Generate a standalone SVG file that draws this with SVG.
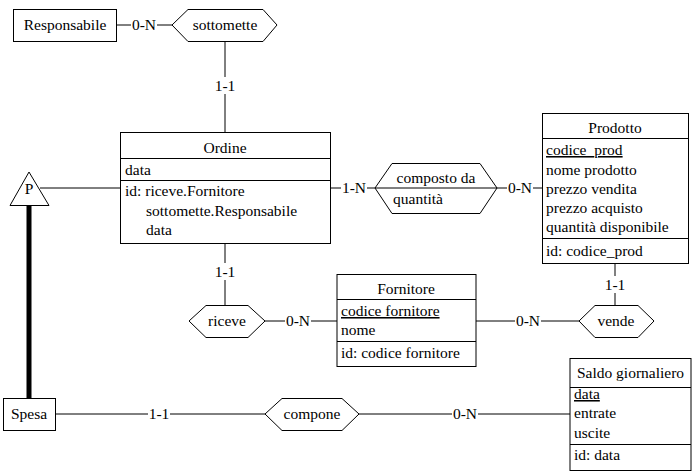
<svg xmlns="http://www.w3.org/2000/svg" width="699" height="473" viewBox="0 0 699 473">
<style>
text{font-family:"Liberation Serif","Times New Roman",serif;font-size:15.5px;fill:#000}
.c{text-anchor:middle}
.b{fill:#fff;stroke:#000;stroke-width:1}
.l{stroke:#000;stroke-width:1;fill:none}
.u{text-decoration:underline}
.bg{fill:#fff}
</style>
<rect width="699" height="473" fill="#fff"/>
<g id="connectors">
<line class="l" x1="40" y1="188" x2="120" y2="188"/>
<line class="l" x1="117" y1="25" x2="172" y2="25"/>
<line class="l" x1="225" y1="41" x2="225" y2="132"/>
<line x1="29" y1="206" x2="29" y2="398" stroke="#000" stroke-width="5"/>
<line class="l" x1="331" y1="188" x2="375" y2="188"/>
<line class="l" x1="497" y1="188" x2="542" y2="188"/>
<line class="l" x1="225" y1="244" x2="225" y2="305"/>
<line class="l" x1="265" y1="321" x2="337" y2="321"/>
<line class="l" x1="476" y1="321" x2="579" y2="321"/>
<line class="l" x1="615" y1="264" x2="615" y2="305"/>
<line class="l" x1="55" y1="414" x2="265" y2="414"/>
<line class="l" x1="359" y1="414" x2="570" y2="414"/>
<g id="labels">
<rect class="bg" x="131" y="17" width="26" height="16"/><text class="c" x="144" y="30">0-N</text>
<rect class="bg" x="214" y="77" width="22" height="17"/><text class="c" x="225" y="91">1-1</text>
<rect class="bg" x="341" y="180" width="26" height="16"/><text class="c" x="354" y="193">1-N</text>
<rect class="bg" x="507" y="180" width="26" height="16"/><text class="c" x="520" y="193">0-N</text>
<rect class="bg" x="214" y="263" width="22" height="17"/><text class="c" x="225" y="277">1-1</text>
<rect class="bg" x="285" y="313" width="26" height="16"/><text class="c" x="298" y="326">0-N</text>
<rect class="bg" x="515" y="313" width="26" height="16"/><text class="c" x="528" y="326">0-N</text>
<rect class="bg" x="604" y="276" width="22" height="17"/><text class="c" x="615" y="290">1-1</text>
<rect class="bg" x="148" y="406" width="22" height="16"/><text class="c" x="159" y="419">1-1</text>
<rect class="bg" x="452" y="406" width="26" height="16"/><text class="c" x="465" y="419">0-N</text>
</g>
</g>
<g id="Responsabile">
<rect class="b" x="13.5" y="9.5" width="103" height="32"/>
<text class="c" x="65" y="30">Responsabile</text>
</g>
<g id="sottomette">
<polygon class="b" points="172,25 188,9.5 263,9.5 277,25 263,41.5 188,41.5"/>
<text class="c" x="225" y="30">sottomette</text>
</g>
<g id="Ordine">
<rect class="b" x="120.5" y="132.5" width="210" height="111"/>
<line class="l" x1="120.5" y1="158.5" x2="330.5" y2="158.5"/>
<line class="l" x1="120.5" y1="180.5" x2="330.5" y2="180.5"/>
<text class="c" x="225" y="153">Ordine</text>
<text x="125" y="175">data</text>
<text x="125" y="196">id: riceve.Fornitore</text>
<text x="146" y="215.5">sottomette.Responsabile</text>
<text x="146" y="235">data</text>
</g>
<g id="P">
<polygon class="b" points="29,172 49,205.5 10,205.5"/>
<text class="c" x="29" y="194">P</text>
</g>
<g id="composto_da">
<polygon class="b" points="375,188 392,163.5 480,163.5 497,188 480,213.5 392,213.5"/>
<line class="l" x1="375" y1="188" x2="497" y2="188"/>
<text class="c" x="436" y="183">composto da</text>
<text x="393" y="204">quantità</text>
</g>
<g id="Prodotto">
<rect class="b" x="542.5" y="113.5" width="146" height="150"/>
<line class="l" x1="542.5" y1="138.5" x2="688.5" y2="138.5"/>
<line class="l" x1="542.5" y1="238.5" x2="688.5" y2="238.5"/>
<text class="c" x="615" y="133">Prodotto</text>
<text class="u" x="546" y="155">codice_prod</text>
<text x="546" y="174.5">nome prodotto</text>
<text x="546" y="194">prezzo vendita</text>
<text x="546" y="213">prezzo acquisto</text>
<text x="546" y="232">quantità disponibile</text>
<text x="546" y="256">id: codice_prod</text>
</g>
<g id="riceve">
<polygon class="b" points="189,321 206,305.5 248,305.5 265,321 248,337.5 206,337.5"/>
<text class="c" x="227" y="326">riceve</text>
</g>
<g id="Fornitore">
<rect class="b" x="337" y="274.5" width="139" height="92"/>
<line class="l" x1="337" y1="299.5" x2="476" y2="299.5"/>
<line class="l" x1="337" y1="341.5" x2="476" y2="341.5"/>
<text class="c" x="406" y="294">Fornitore</text>
<text class="u" x="341" y="316">codice fornitore</text>
<text x="341" y="335">nome</text>
<text x="341" y="358">id: codice fornitore</text>
</g>
<g id="vende">
<polygon class="b" points="579,321 595,305.5 638,305.5 654,321 638,337.5 595,337.5"/>
<text class="c" x="616" y="326">vende</text>
</g>
<g id="Spesa">
<rect class="b" x="3.5" y="398.5" width="52" height="32"/>
<text class="c" x="29" y="419">Spesa</text>
</g>
<g id="compone">
<polygon class="b" points="265,414 282,398.5 342,398.5 359,414 342,430.5 282,430.5"/>
<text class="c" x="312" y="419">compone</text>
</g>
<g id="Saldo_giornaliero">
<rect class="b" x="570" y="358.5" width="121" height="112"/>
<line class="l" x1="570" y1="387.5" x2="691" y2="387.5"/>
<line class="l" x1="570" y1="444.5" x2="691" y2="444.5"/>
<text class="c" x="630.5" y="378">Saldo giornaliero</text>
<text class="u" x="574" y="399">data</text>
<text x="574" y="418">entrate</text>
<text x="574" y="438">uscite</text>
<text x="574" y="460">id: data</text>
</g>
</svg>
